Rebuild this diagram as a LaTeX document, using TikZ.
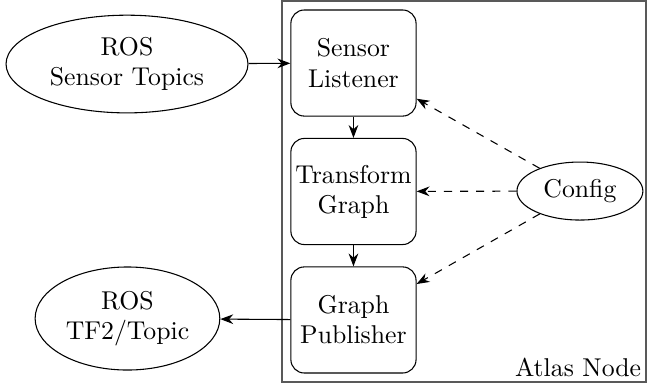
\documentclass[tikz,border=0pt]{standalone}
\usepackage{tikz}
\usetikzlibrary{arrows.meta, positioning, shapes.geometric}

\begin{document}
\begin{tikzpicture}[x=1cm, y=1cm, >=Stealth,
  every node/.style={font=\fontsize{9.6pt}{11.2pt}\selectfont},
  procbox/.style={draw, rounded corners=5pt, align=center, minimum width=1.64cm, minimum height=1.39cm, inner sep=1pt},
  rosnode/.style={draw, ellipse, align=center, inner sep=0pt},
  cfgarrow/.style={->, dashed}]
\useasboundingbox (0,0) rectangle (8.49,5.044);
% Atlas node frame
\node[draw=black!65, line width=0.8pt, minimum width=4.77cm, minimum height=4.99cm, inner sep=0pt]
  (atlas) at (6.078,2.535) {};
\node[anchor=south east, inner sep=2pt] (atlaslabel) at (atlas.south east) {Atlas Node};
\node[procbox] (listener) at (4.631,4.218) {Sensor\\Listener};
\node[procbox] (transform) at (4.631,2.535) {Transform\\Graph};
\node[procbox] (publisher) at (4.631,0.852) {Graph\\Publisher};
\node[rosnode, minimum width=3.17cm, minimum height=1.28cm] (topics) at (1.664,4.205) {ROS\\Sensor Topics};
\node[rosnode, minimum width=2.42cm, minimum height=1.35cm] (tftopic) at (1.670,0.871) {ROS\\TF2/Topic};
\node[rosnode, minimum width=1.65cm, minimum height=0.76cm] (config) at (7.598,2.541) {Config};
\draw[->] (topics) -- (listener);
\draw[->] (listener) -- (transform);
\draw[->] (transform) -- (publisher);
\draw[->] (publisher) -- (tftopic);
\draw[cfgarrow] (config) -- (listener);
\draw[cfgarrow] (config) -- (transform);
\draw[cfgarrow] (config) -- (publisher);
\end{tikzpicture}
\end{document}
